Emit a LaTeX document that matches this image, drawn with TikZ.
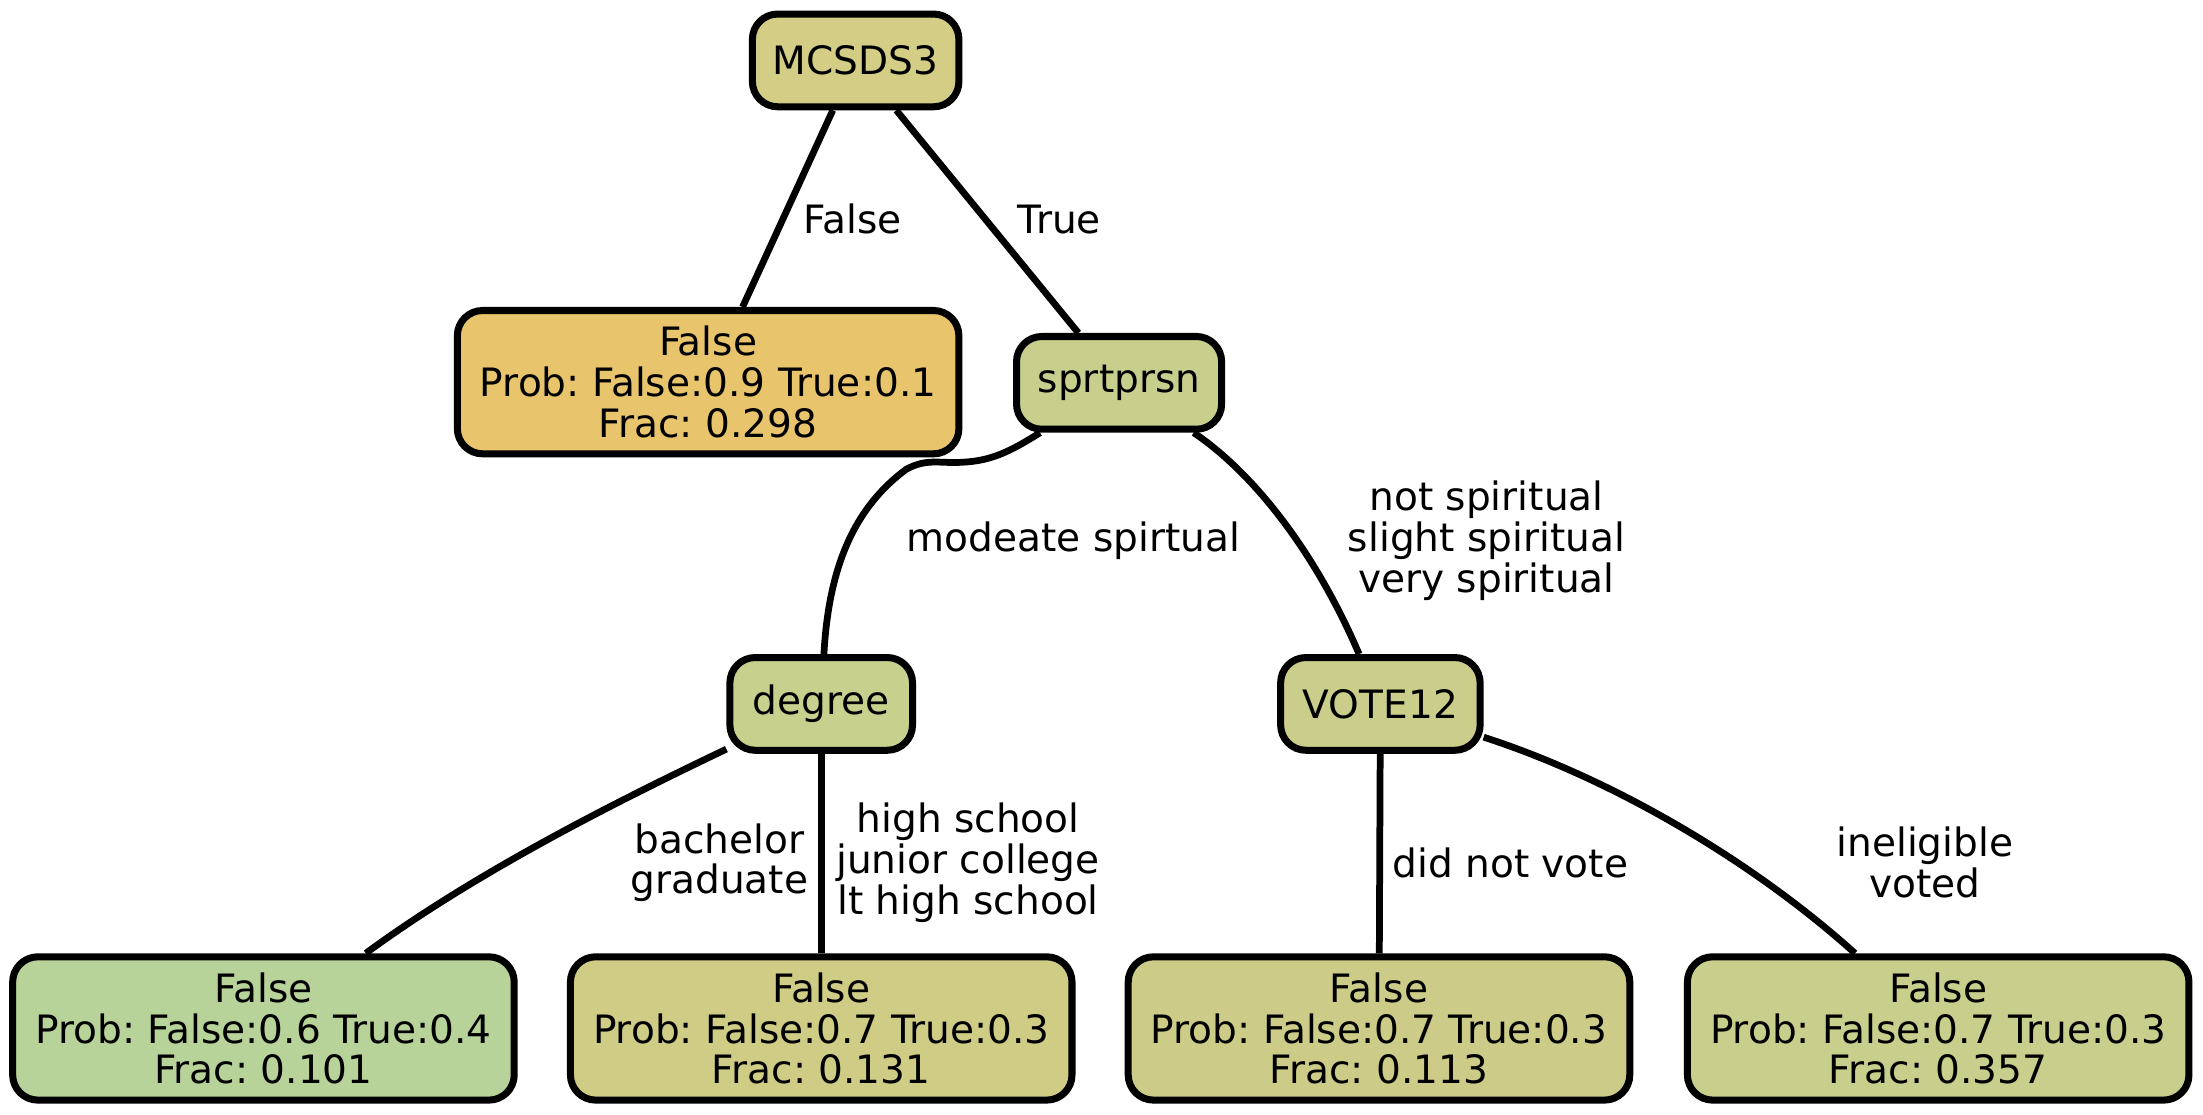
\documentclass[tikz,border=0pt]{standalone}
\usepackage{fontspec}
\setmainfont{DejaVu Sans}
\frenchspacing
\definecolor{cM}{HTML}{D3CD86}
\definecolor{cL1}{HTML}{E8C56C}
\definecolor{cS}{HTML}{C8CF8D}
\definecolor{cD}{HTML}{C8D08E}
\definecolor{cV}{HTML}{CACE8A}
\definecolor{cL2}{HTML}{B8D39A}
\definecolor{cL3}{HTML}{CFCC86}
\definecolor{cL4}{HTML}{CCCC88}
\definecolor{cL5}{HTML}{C8CE8C}
\tikzset{
  box/.style={draw=black, line width=5pt, rounded corners=18pt, inner sep=0pt, align=center,
    font=\fontsize{27.8}{29}\selectfont},
  inner/.style={box, minimum width=147pt, minimum height=66pt},
  leaf/.style={box, minimum width=357pt, minimum height=102pt},
  edge/.style={draw=black, line width=4.8pt},
  lab/.style={align=center, inner sep=0pt, font=\fontsize{27.8}{29}\selectfont}
}
\begin{document}
\begin{tikzpicture}[x=1pt,y=-1pt]
\useasboundingbox (0,0) rectangle (1568,793);
% nodes
\node[inner, fill=cM, minimum width=147pt] (m) at (609,43) {MCSDS3};
\node[leaf, fill=cL1] (l1) at (504,272) {False\\Prob: False:0.9 True:0.1\\Frac: 0.298};
\node[inner, fill=cS, minimum width=146pt] (s) at (796.5,272.5) {sprtprsn};
\node[inner, fill=cD, minimum width=130pt] (d) at (584.5,501) {degree};
\node[inner, fill=cV, minimum width=142pt] (v) at (982.5,501) {VOTE12};
\node[leaf, fill=cL2] (l2) at (187.5,732) {False\\Prob: False:0.6 True:0.4\\Frac: 0.101};
\node[leaf, fill=cL3] (l3) at (584.5,732) {False\\Prob: False:0.7 True:0.3\\Frac: 0.131};
\node[leaf, fill=cL4] (l4) at (981.5,732) {False\\Prob: False:0.7 True:0.3\\Frac: 0.113};
\node[leaf, fill=cL5] (l5) at (1379.5,732) {False\\Prob: False:0.7 True:0.3\\Frac: 0.357};
% edges
\path[edge] (m) -- (l1);
\path[edge] (m) -- (s);
\path[edge] (s) .. controls (718,322) and (705,328) .. (685,329) .. controls (668,330) and (660,326) .. (645,334) .. controls (610,360) and (590,400) .. (d);
\path[edge] (s) .. controls (890,335) and (935,390) .. (v);
\path[edge] (d) .. controls (440,570) and (340,620) .. (l2);
\path[edge] (d) -- (l3);
\path[edge] (v) -- (l4);
\path[edge] (v) .. controls (1150,555) and (1250,615) .. (l5);
% labels
\node[lab] (tF) at (607,156) {False};
\node[lab] (tT) at (754,156) {True};
\node[lab] (tMod) at (764,385) {modeate spirtual};
\node[lab] (tSp) at (1058,385) {not spiritual\\slight spiritual\\very spiritual};
\node[lab] (tBa) at (512,614) {bachelor\\graduate};
\node[lab] (tHi) at (689,614) {high school\\junior college\\lt high school};
\node[lab] (tDn) at (1075,614) {did not vote};
\node[lab] (tIn) at (1370,614) {ineligible\\voted};
\end{tikzpicture}
\end{document}
